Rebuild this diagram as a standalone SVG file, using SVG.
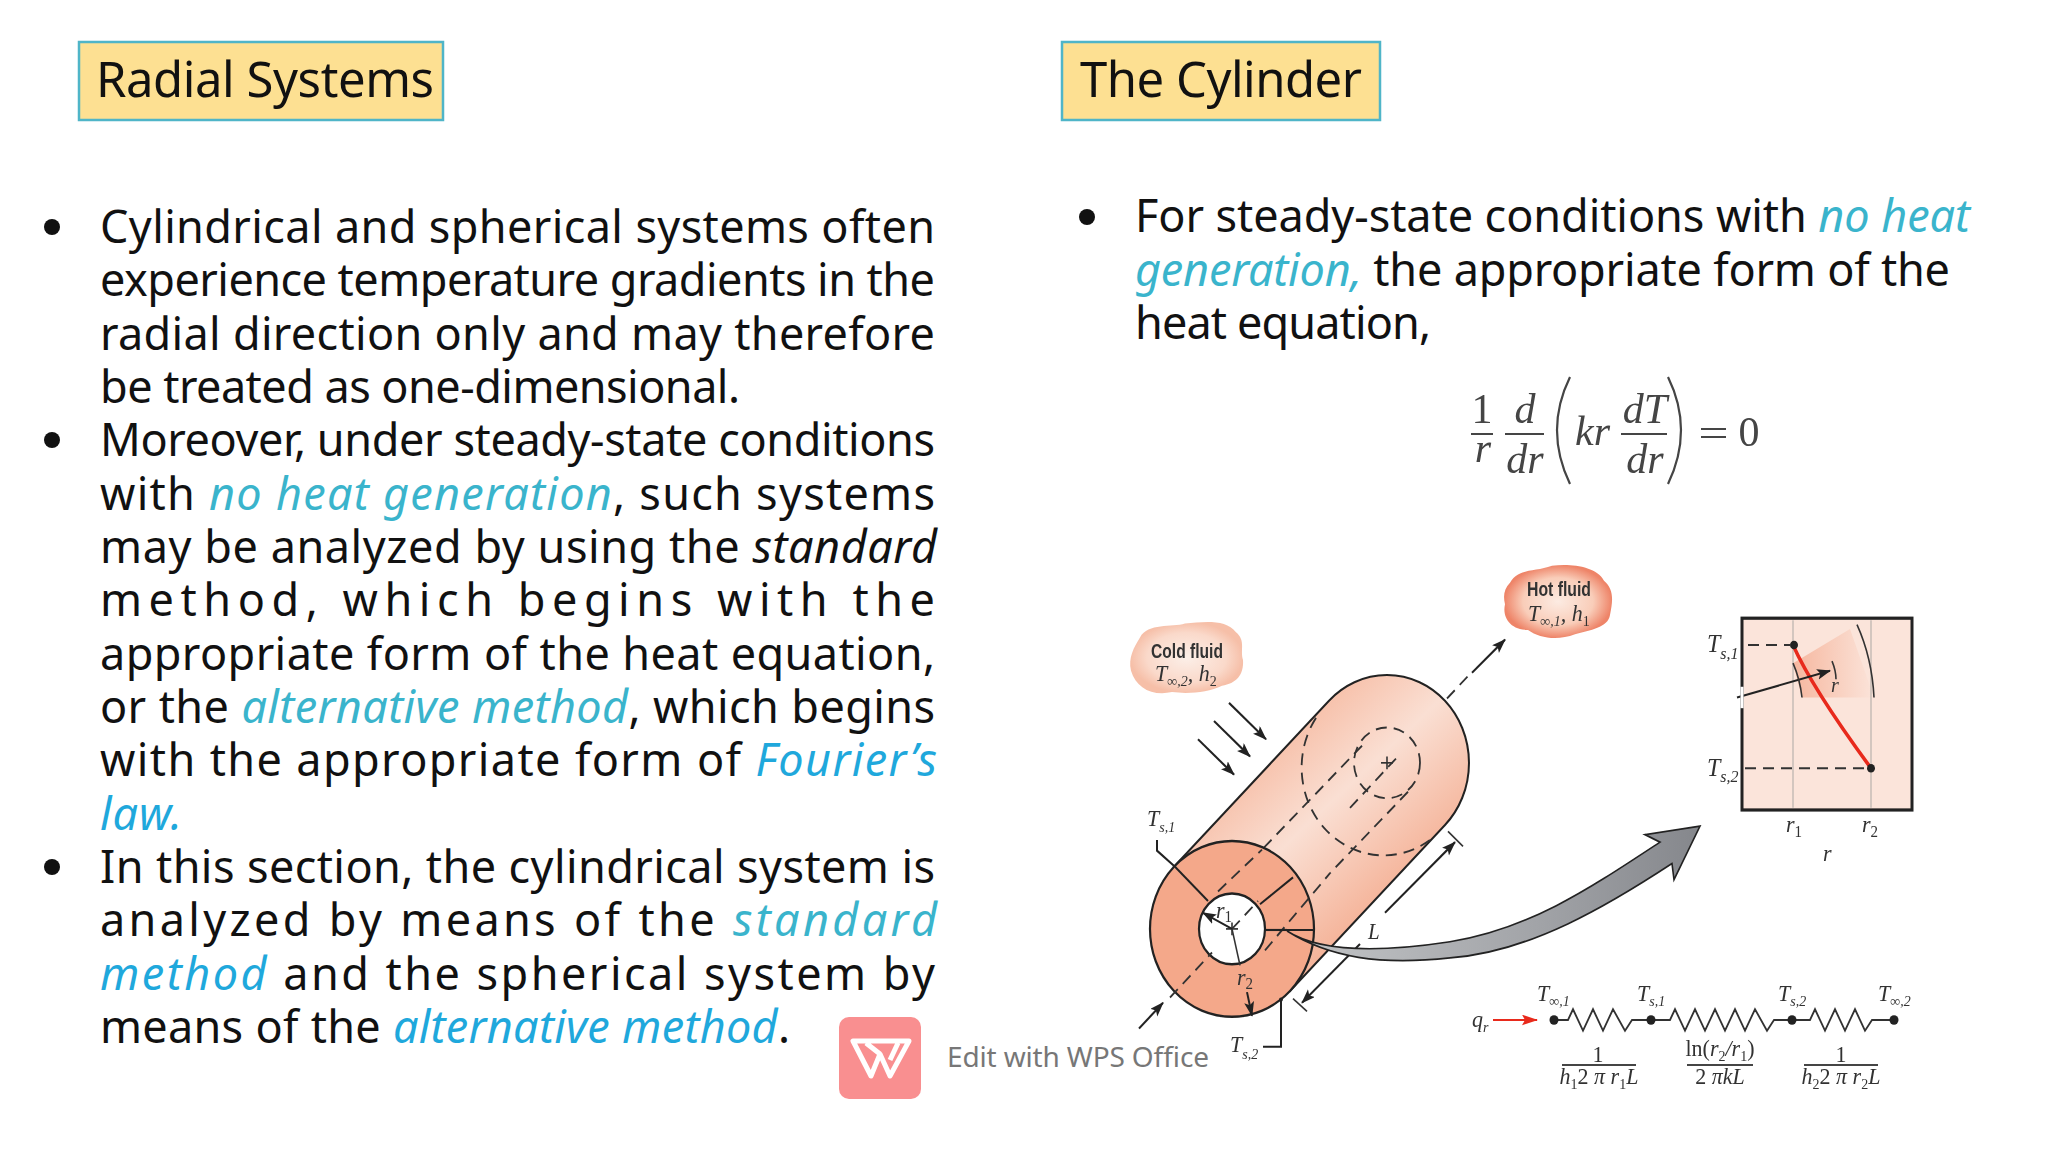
<svg xmlns="http://www.w3.org/2000/svg" width="2048" height="1153" viewBox="0 0 2048 1153">
<style>
.b{font-family:"Noto Sans","Open Sans","DejaVu Sans",sans-serif;font-size:45px;fill:#111;}
.h{font-family:"Noto Sans","Open Sans","DejaVu Sans",sans-serif;font-size:49px;fill:#111;}
.i{font-style:italic;}
.c1{fill:#3AB4CC;font-style:italic;}
.c2{fill:#1FA8DC;font-style:italic;}
.m{font-family:"Liberation Serif","Times New Roman",serif;font-style:italic;fill:#333;}
.n{font-family:"Liberation Serif","Times New Roman",serif;font-style:normal;}
.eq{font-size:42px;fill:#444;}
.lb{font-size:20px;}
.lb tspan.s{font-size:14px;}
.fr{font-size:20px;text-anchor:middle;}
.fr tspan.s{font-size:14px;}
.bold{font-family:"Liberation Sans",Arial,sans-serif;font-weight:bold;font-size:19px;fill:#333;text-anchor:middle;}
.k{fill:none;stroke:#222;stroke-width:2;}
.t{fill:none;stroke:#333;stroke-width:1.6;}
.d{fill:none;stroke:#333;stroke-width:1.8;stroke-dasharray:11 7;}
.ar{fill:none;stroke:#222;stroke-width:2;marker-end:url(#ah);}
.res{fill:none;stroke:#333;stroke-width:1.8;stroke-linejoin:miter;}
.grid{stroke:#B9B2AD;stroke-width:1.2;}
.title{fill:#FDE092;stroke:#4FB5C8;stroke-width:2.5;}
.fline{stroke:#444;stroke-width:2;}
</style>
<defs>
<marker id="ah" markerWidth="16" markerHeight="12" refX="13" refY="5" orient="auto" markerUnits="userSpaceOnUse"><path d="M0,0 L14,5 L0,10 L3,5 Z" fill="#222"/></marker>
<marker id="ahr" markerWidth="18" markerHeight="12" refX="15" refY="5" orient="auto" markerUnits="userSpaceOnUse"><path d="M0,0 L16,5 L0,10 L3,5 Z" fill="#E8291C"/></marker>
<linearGradient id="body" gradientUnits="userSpaceOnUse" x1="1260" y1="720" x2="1400" y2="880">
<stop offset="0" stop-color="#F6B9A0"/><stop offset=".45" stop-color="#FADFD3"/><stop offset="1" stop-color="#F4AE92"/></linearGradient>
<linearGradient id="arrow" x1="0" y1="0" x2="1" y2="0"><stop offset="0" stop-color="#C3C5C7"/><stop offset=".6" stop-color="#A2A4A8"/><stop offset="1" stop-color="#85878C"/></linearGradient>
<linearGradient id="wedge" x1="0" y1="0" x2="1" y2="0"><stop offset="0" stop-color="#F6B79F"/><stop offset="1" stop-color="#FBE4DA"/></linearGradient>
<radialGradient id="cloudC"><stop offset="0" stop-color="#FCEFE8"/><stop offset=".7" stop-color="#FAD9CA"/><stop offset="1" stop-color="#F6BFA8"/></radialGradient>
<radialGradient id="cloudH"><stop offset="0" stop-color="#FCEBE2"/><stop offset=".65" stop-color="#F9CDB9"/><stop offset="1" stop-color="#EE8468"/></radialGradient>
<filter id="soft" x="-5%" y="-5%" width="110%" height="110%"><feGaussianBlur stdDeviation="0.6"/></filter>
</defs>
<rect width="2048" height="1153" fill="#FFFFFF"/>

<g id="title-radial">
<rect class="title" x="79" y="42" width="364" height="78"/>
<text class="h" x="96" y="97" textLength="338">Radial Systems</text>
</g>
<g id="title-cylinder">
<rect class="title" x="1062" y="42" width="318" height="78"/>
<text class="h" x="1080" y="97" textLength="282">The Cylinder</text>
</g>

<g id="left-text">
<circle cx="52" cy="227" r="8" fill="#111"/>
<circle cx="52" cy="440" r="8" fill="#111"/>
<circle cx="52" cy="867" r="8" fill="#111"/>
<text class="b" x="100" y="243" textLength="835">Cylindrical and spherical systems often</text>
<text class="b" x="100" y="296" textLength="835">experience temperature gradients in the</text>
<text class="b" x="100" y="350" textLength="835">radial direction only and may therefore</text>
<text class="b" x="100" y="403" textLength="640">be treated as one-dimensional.</text>
<text class="b" x="100" y="456" textLength="835">Moreover, under steady-state conditions</text>
<text class="b" x="100" y="510" textLength="835">with <tspan class="c1">no heat generation</tspan>, such systems</text>
<text class="b" x="100" y="563" textLength="837">may be analyzed by using the <tspan class="i">standard</tspan></text>
<text class="b" x="100" y="616" textLength="835">method, which begins with the</text>
<text class="b" x="100" y="670" textLength="835">appropriate form of the heat equation,</text>
<text class="b" x="100" y="723" textLength="835">or the <tspan class="c1">alternative method</tspan>, which begins</text>
<text class="b" x="100" y="776" textLength="837">with the appropriate form of <tspan class="c2">Fourier’s</tspan></text>
<text class="b" x="100" y="830" textLength="82"><tspan class="c2">law.</tspan></text>
<text class="b" x="100" y="883" textLength="835">In this section, the cylindrical system is</text>
<text class="b" x="100" y="936" textLength="837">analyzed by means of the <tspan class="c1">standard</tspan></text>
<text class="b" x="100" y="990" textLength="835"><tspan class="c2">method</tspan> and the spherical system by</text>
<text class="b" x="100" y="1043" textLength="690">means of the <tspan class="c2">alternative method</tspan>.</text>
</g>

<g id="right-text">
<circle cx="1087" cy="217" r="8" fill="#111"/>
<text class="b" x="1135" y="232" textLength="835">For steady-state conditions with <tspan class="c1">no heat</tspan></text>
<text class="b" x="1135" y="286" textLength="815"><tspan class="c1">generation,</tspan> the appropriate form of the</text>
<text class="b" x="1135" y="339" textLength="296">heat equation,</text>
</g>

<g id="equation" filter="url(#soft)">
<text class="m eq n" x="1482" y="423" text-anchor="middle">1</text>
<line class="fline" x1="1471" y1="434" x2="1493" y2="434"/>
<text class="m eq" x="1483" y="462" text-anchor="middle">r</text>
<text class="m eq" x="1525" y="423" text-anchor="middle">d</text>
<line class="fline" x1="1505" y1="434" x2="1544" y2="434"/>
<text class="m eq" x="1525" y="473" text-anchor="middle">dr</text>
<path d="M1570,377 Q1544,430 1570,484" fill="none" stroke="#444" stroke-width="2.2"/>
<text class="m eq" x="1575" y="445">kr</text>
<text class="m eq" x="1645" y="423" text-anchor="middle">dT</text>
<line class="fline" x1="1621" y1="434" x2="1667" y2="434"/>
<text class="m eq" x="1645" y="473" text-anchor="middle">dr</text>
<path d="M1668,377 Q1694,430 1668,484" fill="none" stroke="#444" stroke-width="2.2"/>
<line class="fline" x1="1701" y1="429" x2="1726" y2="429"/>
<line class="fline" x1="1701" y1="437" x2="1726" y2="437"/>
<text class="m eq n" x="1749" y="446" text-anchor="middle">0</text>
</g>

<g id="illustration" transform="matrix(1,0,0,1.0714,0,-38.57)">
<g id="cylinder" filter="url(#soft)">
<path d="M1174,845 L1329,690 A82,82 0 0 1 1445,806 L1290,961 Z" fill="url(#body)" stroke="#222" stroke-width="2"/>
<path class="d" d="M1316,706 A82,82 0 0 0 1430,820"/>
<circle class="d" cx="1387" cy="748" r="33" stroke-dasharray="9 5"/>
<line class="d" x1="1362" y1="732" x2="1262" y2="829"/>
<line class="d" x1="1408" y1="775" x2="1330" y2="851"/>
<line class="d" x1="1350" y1="790" x2="1400" y2="740" stroke-dasharray="14 6"/>
<path d="M1232,903 m-82,0 a82,82 0 1 0 164,0 a82,82 0 1 0 -164,0 Z" fill="#F4A88A" stroke="#222" stroke-width="2.2"/>
<circle cx="1232" cy="903" r="33" fill="#FFFFFF" stroke="#222" stroke-width="2.2"/>
<line class="d" x1="1218" y1="868" x2="1262" y2="829"/>
<line class="d" x1="1265" y1="923" x2="1330" y2="851"/>
<line class="k" x1="1175" y1="845" x2="1208" y2="877"/>
<line class="k" x1="1260" y1="880" x2="1293" y2="855"/>
<line class="k" x1="1265" y1="904" x2="1313" y2="904"/>
<line class="d" x1="1170" y1="967" x2="1212" y2="925" stroke-dasharray="16 6 3 6"/>
<line class="d" x1="1232" y1="903" x2="1258" y2="877" stroke-dasharray="8 5"/>
<line class="t" x1="1226" y1="903" x2="1238" y2="903"/><line class="t" x1="1232" y1="897" x2="1232" y2="909"/>
<line class="t" x1="1381" y1="748" x2="1393" y2="748"/><line class="t" x1="1387" y1="742" x2="1387" y2="754"/>
<line class="d" x1="1447" y1="688" x2="1472" y2="663" stroke-dasharray="16 6 3 6"/>
<line class="ar" x1="1472" y1="664" x2="1505" y2="633"/>
<line class="ar" x1="1139" y1="996" x2="1163" y2="972"/>
<line class="ar" x1="1229" y1="692" x2="1266" y2="726"/>
<line class="ar" x1="1214" y1="709" x2="1250" y2="742"/>
<line class="ar" x1="1198" y1="726" x2="1234" y2="759"/>
<path class="k" d="M1157,820 V830 L1175,845"/>
<line class="ar" x1="1232" y1="903" x2="1203" y2="888" stroke-width="1.6"/>
<line class="t" x1="1232" y1="903" x2="1240" y2="937"/>
<line class="ar" x1="1247" y1="962" x2="1252" y2="984" stroke-width="1.6"/>
<line class="ar" x1="1360" y1="917" x2="1302" y2="972"/>
<line class="ar" x1="1385" y1="888" x2="1455" y2="822"/>
<line class="t" x1="1293" y1="968" x2="1307" y2="980"/>
<line class="t" x1="1448" y1="812" x2="1463" y2="826"/>
<path class="k" d="M1281,968 V1013 H1263"/>
<circle cx="1281" cy="969" r="2" fill="#222"/>
<path d="M1287,905 C1320,925 1380,925 1450,915 C1530,903 1590,865 1660,822 L1645,815 L1700,807 L1674,857 L1672,842 C1610,880 1530,925 1450,930 C1380,937 1330,930 1287,905 Z" fill="url(#arrow)" stroke="#222" stroke-width="1.6"/>
<path class="k" d="M1265,904 H1287"/>
<text class="m lb" x="1147" y="807" style="font-size:22px">T<tspan class="s" dy="6">s,1</tspan></text>
<text class="m lb" x="1216" y="893" style="font-size:22px">r<tspan class="s n" dy="4" style="font-size:15px">1</tspan></text>
<text class="m lb" x="1237" y="955" style="font-size:22px">r<tspan class="s n" dy="4" style="font-size:15px">2</tspan></text>
<text class="m lb" x="1368" y="912" style="font-size:21px">L</text>
<text class="m lb" x="1230" y="1018" style="font-size:22px">T<tspan class="s" dy="6">s,2</tspan></text>
</g>

<g id="cold-fluid" filter="url(#soft)">
<path d="M1140,631 C1148,617 1172,622 1185,618 C1205,616 1226,614 1236,626 C1246,634 1240,642 1243,652 C1244,666 1236,674 1222,676 C1208,682 1190,684 1172,682 C1152,686 1136,678 1131,662 C1128,650 1134,640 1140,631 Z" fill="url(#cloudC)"/>
<text class="bold" x="1187" y="650" textLength="72" lengthAdjust="spacingAndGlyphs">Cold fluid</text>
<text class="m lb" x="1155" y="672" style="font-size:22px">T<tspan class="s" dy="4">∞,2</tspan><tspan dy="-4">, h</tspan><tspan class="s n" dy="4">2</tspan></text>
</g>
<g id="hot-fluid" filter="url(#soft)">
<path d="M1510,580 C1518,566 1535,570 1552,564 C1570,562 1596,564 1604,578 C1614,586 1613,596 1610,610 C1608,622 1590,624 1575,628 C1558,634 1540,632 1528,624 C1510,624 1502,612 1505,600 C1503,592 1504,586 1510,580 Z" fill="url(#cloudH)"/>
<text class="bold" x="1559" y="592" textLength="64" lengthAdjust="spacingAndGlyphs">Hot fluid</text>
<text class="m lb" x="1528" y="616" style="font-size:22px">T<tspan class="s" dy="4">∞,1</tspan><tspan dy="-4">, h</tspan><tspan class="s n" dy="4">1</tspan></text>
</g>

<g id="graph" filter="url(#soft)">
<rect x="1742" y="613" width="170" height="179" fill="#FBE4DA" stroke="#222" stroke-width="3"/>
<path d="M1802,687 L1793,655 L1850,623 L1874,687 Z" fill="url(#wedge)"/>
<line class="grid" x1="1793" y1="615" x2="1793" y2="790"/>
<line class="grid" x1="1871" y1="615" x2="1871" y2="790"/>
<line class="d" x1="1748" y1="638" x2="1790" y2="638"/>
<line class="d" x1="1745" y1="753" x2="1868" y2="753"/>
<path d="M1793,638 Q1812,678 1871,753" fill="none" stroke="#E8291C" stroke-width="3.5"/>
<circle cx="1794" cy="638" r="4" fill="#222"/>
<circle cx="1871" cy="753" r="4" fill="#222"/>
<line class="ar" x1="1737" y1="687" x2="1830" y2="662" stroke-width="1.8"/>
<line x1="1742" y1="677" x2="1742" y2="697" stroke="#fff" stroke-width="3"/>
<path class="t" d="M1793,655 Q1800,670 1802,687"/>
<path class="t" d="M1832,653 Q1836,662 1836,670"/>
<path class="t" d="M1857,619 Q1872,650 1874,687"/>
<text class="m lb" x="1831" y="682">r</text>
<text class="m lb" x="1707" y="645" style="font-size:24px">T<tspan class="s" dy="6" style="font-size:16px">s,1</tspan></text>
<text class="m lb" x="1707" y="760" style="font-size:24px">T<tspan class="s" dy="6" style="font-size:16px">s,2</tspan></text>
<text class="m lb" x="1786" y="813" style="font-size:22px">r<tspan class="s n" dy="4" style="font-size:15px">1</tspan></text>
<text class="m lb" x="1862" y="813" style="font-size:22px">r<tspan class="s n" dy="4" style="font-size:15px">2</tspan></text>
<text class="m lb" x="1823" y="840" style="font-size:22px">r</text>
</g>

<g id="network" filter="url(#soft)">
<line x1="1493" y1="988" x2="1537" y2="988" stroke="#E8291C" stroke-width="2" marker-end="url(#ahr)"/>
<polyline class="res" points="1554,988 1568,988 1573,978 1583,998 1593,978 1603,998 1613,978 1625,998 1632,988 1651,988"/>
<polyline class="res" points="1651,988 1670,988 1675,978 1685,998 1695,978 1705,998 1715,978 1725,998 1735,978 1745,998 1755,978 1767,998 1774,988 1792,988"/>
<polyline class="res" points="1792,988 1810,988 1815,978 1825,998 1835,978 1845,998 1855,978 1865,998 1872,988 1894,988"/>
<circle cx="1554" cy="988" r="4.5" fill="#222"/><circle cx="1651" cy="988" r="4.5" fill="#222"/><circle cx="1792" cy="988" r="4.5" fill="#222"/><circle cx="1894" cy="988" r="4.5" fill="#222"/>
<text class="m lb" x="1472" y="995" style="font-size:22px">q<tspan class="s" dy="4" style="font-size:14px">r</tspan></text>
<text class="m lb" x="1537" y="970" style="font-size:22px">T<tspan class="s" dy="5">∞,1</tspan></text>
<text class="m lb" x="1637" y="970" style="font-size:22px">T<tspan class="s" dy="5">s,1</tspan></text>
<text class="m lb" x="1778" y="970" style="font-size:22px">T<tspan class="s" dy="5">s,2</tspan></text>
<text class="m lb" x="1878" y="970" style="font-size:22px">T<tspan class="s" dy="5">∞,2</tspan></text>
<text class="m fr n" x="1598" y="1027" style="font-size:22px">1</text>
<line class="fline" x1="1562" y1="1030" x2="1636" y2="1030"/>
<text class="m fr" x="1599" y="1048" style="font-size:22px">h<tspan class="s n" dy="4">1</tspan><tspan class="n" dy="-4">2</tspan> π r<tspan class="s n" dy="4">1</tspan><tspan dy="-4">L</tspan></text>
<text class="m fr" x="1720" y="1022" style="font-size:22px"><tspan class="n">ln(</tspan>r<tspan class="s n" dy="4">2</tspan><tspan dy="-4">/r</tspan><tspan class="s n" dy="4">1</tspan><tspan class="n" dy="-4">)</tspan></text>
<line class="fline" x1="1687" y1="1030" x2="1753" y2="1030"/>
<text class="m fr" x="1720" y="1048" style="font-size:22px"><tspan class="n">2</tspan> πkL</text>
<text class="m fr n" x="1841" y="1027" style="font-size:22px">1</text>
<line class="fline" x1="1804" y1="1030" x2="1878" y2="1030"/>
<text class="m fr" x="1841" y="1048" style="font-size:22px">h<tspan class="s n" dy="4">2</tspan><tspan class="n" dy="-4">2</tspan> π r<tspan class="s n" dy="4">2</tspan><tspan dy="-4">L</tspan></text>
</g>
</g>

<g id="wps-watermark">
<rect x="839" y="1017" width="82" height="82" rx="10" fill="#F98F90"/>
<path d="M853,1041 H909 L890,1076 L880,1054 L871,1076 Z M866,1043 L880,1054 M898,1043 L890,1060" fill="none" stroke="#fff" stroke-width="5" stroke-linejoin="round"/>
<text x="947" y="1067" font-family="'Noto Sans','Open Sans',sans-serif" font-size="28" fill="#777" textLength="262">Edit with WPS Office</text>
</g>
</svg>
